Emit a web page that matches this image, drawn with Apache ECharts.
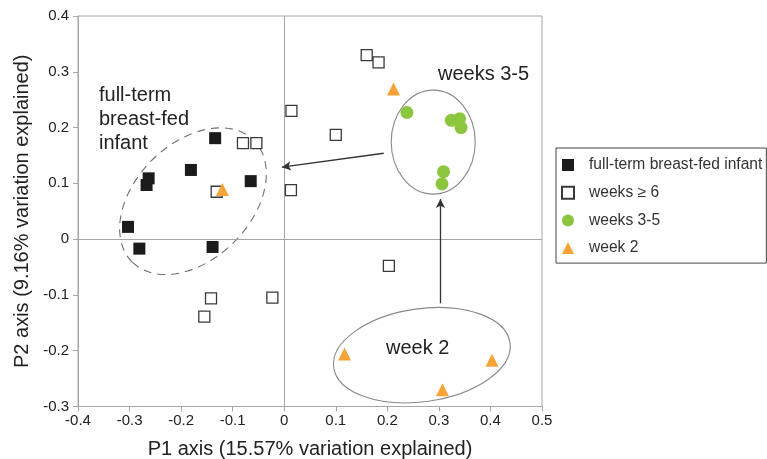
<!DOCTYPE html>
<html>
<head>
<meta charset="utf-8">
<script src="https://cdn.jsdelivr.net/npm/echarts@6/dist/echarts.min.js"></script>
<style>
html,body{margin:0;padding:0;background:#fff;}
#chart{width:767px;height:459px;}
</style>
</head>
<body>
<div id="chart"></div>
<script>
// ---- data ----
const seriesNames = ['full-term breast-fed infant', 'weeks \u2265 6', 'weeks 3-5', 'week 2'];
const fullTerm = [[-0.303, 0.022], [-0.281, -0.017], [-0.139, -0.014], [-0.134, 0.181],
                  [-0.181, 0.124], [-0.263, 0.109], [-0.267, 0.097], [-0.065, 0.104]];
const weeks6 = [[-0.080, 0.172], [-0.054, 0.172], [0.014, 0.230], [-0.131, 0.085],
                [0.013, 0.088], [-0.142, -0.106], [-0.155, -0.139], [-0.023, -0.105],
                [0.160, 0.330], [0.183, 0.317], [0.100, 0.187], [0.203, -0.048]];
const weeks35 = [[0.238, 0.227], [0.324, 0.213], [0.340, 0.216], [0.343, 0.200],
                 [0.309, 0.121], [0.306, 0.099]];
const week2 = [[0.212, 0.269], [-0.120, 0.089], [0.117, -0.206], [0.307, -0.270], [0.403, -0.217]];
const xTicks = [-0.4, -0.3, -0.2, -0.1, 0, 0.1, 0.2, 0.3, 0.4, 0.5];
const yTicks = [-0.3, -0.2, -0.1, 0, 0.1, 0.2, 0.3, 0.4];
// group ellipse centres (data units)
const ellipseCenters = [[-0.177, 0.068], [0.289, 0.174], [0.267, -0.208]];
// arrows: from -> to (data units)
const arrows = [[[0.193, 0.154], [-0.0045, 0.129]], [[0.303, -0.115], [0.303, 0.072]]];

// ---- styles ----
const FONT = '"Liberation Sans", Arial, sans-serif';
const ellipseStyles = [
  {rx: 86, ry: 58, rot: Math.PI / 4, dash: [8, 6], color: '#707070'},
  {rx: 42, ry: 52, rot: 0, dash: null, color: '#8a8a8a'},
  {rx: 89, ry: 46.5, rot: 8 * Math.PI / 180, dash: null, color: '#8a8a8a'}
];
const axisGray = '#a6a6a6';

const chart = echarts.init(document.getElementById('chart'));
const fmt = v => String(Number(v.toFixed(1)));

const option = {
  animation: false,
  backgroundColor: '#fff',
  grid: {left: 78, right: 225, top: 16, bottom: 52.5, show: true, borderColor: axisGray, borderWidth: 1,
         containLabel: false, outerBoundsMode: 'none'},
  xAxis: {
    type: 'value', min: xTicks[0], max: xTicks[xTicks.length - 1], interval: 0.1,
    name: 'P1 axis (15.57% variation explained)', nameLocation: 'middle', nameGap: 33,
    nameTextStyle: {fontFamily: FONT, fontSize: 20, color: '#222'},
    axisLine: {show: true, onZero: false, lineStyle: {color: axisGray, width: 1}},
    axisTick: {show: true, inside: false, length: 5, lineStyle: {color: axisGray}},
    axisLabel: {formatter: fmt, fontFamily: FONT, fontSize: 15, color: '#222', margin: 7},
    splitLine: {show: false}
  },
  yAxis: {
    type: 'value', min: yTicks[0], max: yTicks[yTicks.length - 1], interval: 0.1,
    name: 'P2 axis (9.16% variation explained)', nameLocation: 'middle', nameGap: 45,
    nameTextStyle: {fontFamily: FONT, fontSize: 20, color: '#222'},
    axisLine: {show: true, onZero: false, lineStyle: {color: axisGray, width: 1}},
    axisTick: {show: true, inside: false, length: 5, lineStyle: {color: axisGray}},
    axisLabel: {formatter: fmt, fontFamily: FONT, fontSize: 15, color: '#222', margin: 9},
    splitLine: {show: false}
  },
  legend: {
    data: seriesNames, orient: 'vertical', left: 556, top: 148,
    padding: [9, 4, 7, 5], itemGap: 11.7, itemWidth: 12, itemHeight: 12,
    borderColor: '#444', borderWidth: 1, backgroundColor: '#fff',
    textStyle: {fontFamily: FONT, fontSize: 15.6, color: '#333', padding: [0, 0, 0, 10]},
    selectedMode: false
  },
  series: [
    {
      type: 'scatter', data: [], silent: true, z: 1,
      markLine: {
        silent: true, symbol: 'none', label: {show: false},
        lineStyle: {color: axisGray, width: 1, type: 'solid'},
        data: [{xAxis: 0}, {yAxis: 0}]
      }
    },
    {
      type: 'custom', data: ellipseCenters, silent: true, clip: false, z: 2,
      renderItem: function (params, api) {
        const c = api.coord([api.value(0), api.value(1)]);
        const e = ellipseStyles[params.dataIndex];
        return {
          type: 'ellipse', x: c[0], y: c[1], rotation: e.rot,
          shape: {cx: 0, cy: 0, rx: e.rx, ry: e.ry},
          style: {fill: null, stroke: e.color, lineWidth: 1.1, lineDash: e.dash}
        };
      }
    },
    {
      type: 'scatter', data: [], silent: true, z: 3,
      markLine: {
        silent: true, symbol: ['none', 'arrow'], symbolSize: [7, 9], label: {show: false},
        lineStyle: {color: '#333', width: 1.3, type: 'solid'},
        data: arrows.map(a => [{coord: a[0]}, {coord: a[1]}])
      }
    },
    {
      name: seriesNames[0], type: 'scatter', data: fullTerm, symbol: 'rect', symbolSize: 12, z: 5,
      itemStyle: {color: '#1b1b1b', opacity: 1}
    },
    {
      name: seriesNames[1], type: 'scatter', data: weeks6, symbol: 'rect', symbolSize: 11, z: 5,
      itemStyle: {color: '#ffffff', borderColor: '#3a3a3a', borderWidth: 1.3, opacity: 1}
    },
    {
      name: seriesNames[2], type: 'scatter', data: weeks35, symbol: 'circle', symbolSize: 13, z: 5,
      itemStyle: {color: '#8cc63e', opacity: 1}
    },
    {
      name: seriesNames[3], type: 'scatter', data: week2, symbol: 'triangle', symbolSize: 13, z: 5,
      itemStyle: {color: '#f8a337', opacity: 1}
    }
  ],
  graphic: [
    {type: 'text', x: 99, y: 83, z: 10,
     style: {text: 'full-term\nbreast-fed\ninfant', font: '20px ' + FONT, fill: '#222', lineHeight: 24, verticalAlign: 'top'}},
    {type: 'text', x: 438, y: 74, z: 10,
     style: {text: 'weeks 3-5', font: '20px ' + FONT, fill: '#222', verticalAlign: 'middle'}},
    {type: 'text', x: 386, y: 348, z: 10,
     style: {text: 'week 2', font: '20px ' + FONT, fill: '#222', verticalAlign: 'middle'}}
  ]
};
chart.setOption(option);
</script>
</body>
</html>
